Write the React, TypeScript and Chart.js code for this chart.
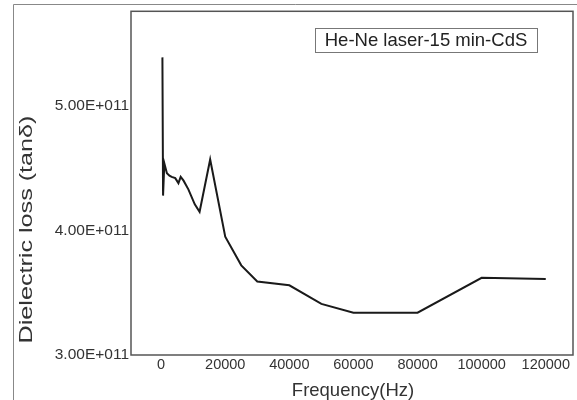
import React, { useEffect, useRef } from "react";
import { Chart, registerables } from "chart.js";

Chart.register(...registerables);

const frequencies = [400, 600, 1000, 1800, 2600, 3300, 4400, 5400, 6100, 7000, 8500, 10500, 12000, 15300, 20000, 25000, 30000, 40000, 50000, 60000, 80000, 100000, 120000];
const lossValues = [5.39e11, 4.28e11, 4.54e11, 4.46e11, 4.44e11, 4.43e11, 4.42e11, 4.38e11, 4.43e11, 4.40e11, 4.33e11, 4.21e11, 4.15e11, 4.57e11, 3.95e11, 3.72e11, 3.59e11, 3.56e11, 3.41e11, 3.34e11, 3.34e11, 3.62e11, 3.61e11];
const xTicks = [0, 20000, 40000, 60000, 80000, 100000, 120000];
const yTicks = [3e11, 4e11, 5e11];
const legendText = "He-Ne laser-15 min-CdS";
const xTitle = "Frequency(Hz)";
const yTitle = "Dielectric loss (tanδ)";

const FONT = "'Liberation Sans', Arial, sans-serif";

const decorPlugin = {
  id: "decor",
  beforeDraw(chart: any) {
    const ctx = chart.ctx;
    ctx.save();
    ctx.fillStyle = "#ffffff";
    ctx.fillRect(0, 0, chart.width, chart.height);
    ctx.strokeStyle = "#888888";
    ctx.lineWidth = 1;
    ctx.beginPath();
    ctx.moveTo(13.5, chart.height);
    ctx.lineTo(13.5, 4.5);
    ctx.lineTo(chart.width, 4.5);
    ctx.stroke();
    ctx.restore();
  },
  afterDraw(chart: any) {
    const ctx = chart.ctx;
    const a = chart.chartArea;
    ctx.save();
    ctx.strokeStyle = "#555555";
    ctx.lineWidth = 1.5;
    ctx.strokeRect(a.left, a.top, a.right - a.left, a.bottom - a.top);
    ctx.strokeStyle = "#777777";
    ctx.lineWidth = 1;
    ctx.strokeRect(315.5, 28.5, 222, 24);
    ctx.fillStyle = "#222222";
    ctx.font = `18.5px ${FONT}`;
    ctx.textAlign = "center";
    ctx.textBaseline = "middle";
    ctx.fillText(legendText, 426, 41);
    ctx.fillStyle = "#333333";
    ctx.font = `18.5px ${FONT}`;
    ctx.fillText(xTitle, 353, 391);
    ctx.translate(27, 229.5);
    ctx.rotate(-Math.PI / 2);
    ctx.scale(1.36, 1);
    ctx.font = `18.5px ${FONT}`;
    ctx.fillText(yTitle, 0, 0);
    ctx.restore();
  },
};

export default function App() {
  const ref = useRef<HTMLCanvasElement | null>(null);
  useEffect(() => {
    if (!ref.current) return;
    const chart = new Chart(ref.current, {
      type: "line",
      data: {
        datasets: [
          {
            data: frequencies.map((f, i) => ({ x: f, y: lossValues[i] })),
            borderColor: "#1a1a1a",
            borderWidth: 2,
            pointRadius: 0,
            tension: 0,
            fill: false,
          },
        ],
      },
      options: {
        animation: false,
        responsive: false,
        devicePixelRatio: 1,
        layout: { padding: { top: 7, right: 4, left: 0, bottom: 0 } },
        plugins: { legend: { display: false }, tooltip: { enabled: false } },
        scales: {
          x: {
            type: "linear",
            min: -9400,
            max: 128500,
            grid: { display: false, drawTicks: false },
            border: { display: false },
            afterBuildTicks: (s: any) => {
              s.ticks = xTicks.map((v) => ({ value: v }));
            },
            ticks: {
              padding: 1,
              color: "#333333",
              font: { family: FONT, size: 14.5 },
              maxRotation: 0,
              autoSkip: false,
              callback: (v: any) => String(v),
            },
            afterFit: (s: any) => {
              s.height = 45;
            },
          },
          y: {
            type: "linear",
            min: 3e11,
            max: 5.76e11,
            grid: { display: false, drawTicks: false },
            border: { display: false },
            afterBuildTicks: (s: any) => {
              s.ticks = yTicks.map((v) => ({ value: v }));
            },
            ticks: {
              padding: 2,
              color: "#333333",
              font: { family: FONT, size: 15.5 },
              autoSkip: false,
              callback: (v: any) => (Number(v) / 1e11).toFixed(2) + "E+011",
            },
            afterFit: (s: any) => {
              s.width = 131;
            },
          },
        },
      },
      plugins: [decorPlugin],
    });
    return () => chart.destroy();
  }, []);
  return (
    <div style={{ position: "absolute", left: 0, top: 0, width: 577, height: 400 }}>
      <canvas ref={ref} width={577} height={400} />
    </div>
  );
}
